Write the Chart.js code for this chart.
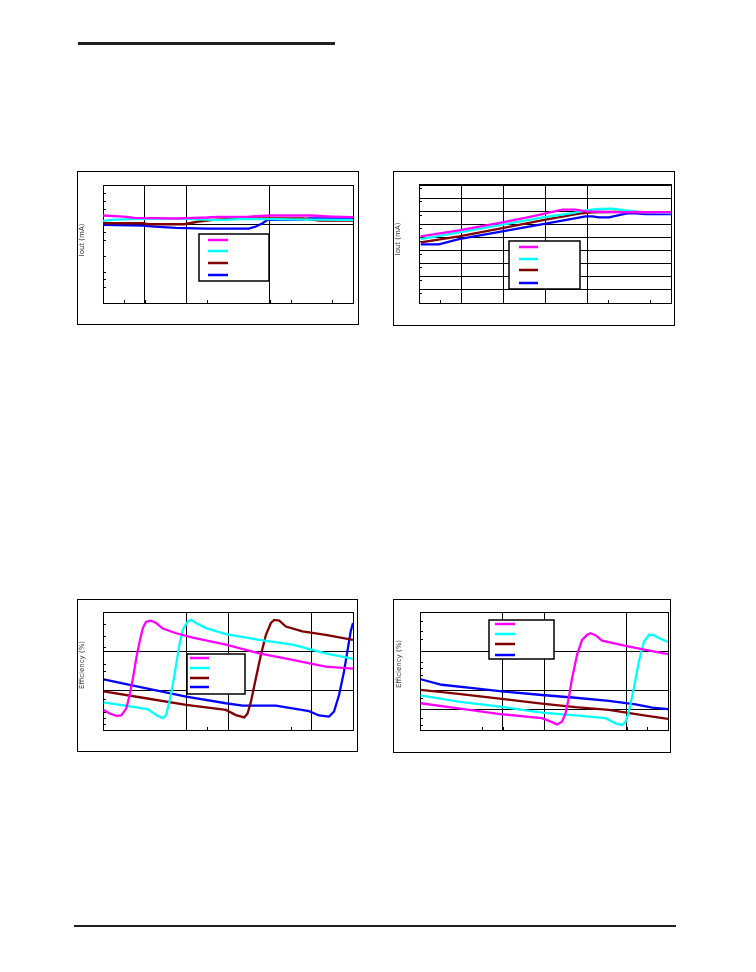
<!DOCTYPE html>
<html>
<head>
<meta charset="utf-8">
<script src="https://cdn.jsdelivr.net/npm/chart.js@4.4.1/dist/chart.umd.min.js"></script>
<style>
  body { margin: 0; background: #fff; width: 756px; height: 972px; position: relative; overflow: hidden; }
  canvas { position: absolute; }
  .rule { position: absolute; background: #231f20; }
</style>
</head>
<body>
<div class="rule" style="left:78px;top:42px;width:257px;height:3px"></div>
<div class="rule" style="left:74px;top:925px;width:602px;height:2px"></div>
<canvas id="c1" width="282" height="154" style="left:77px;top:171px"></canvas>
<canvas id="c2" width="282" height="155" style="left:393px;top:171px"></canvas>
<canvas id="c3" width="281" height="153" style="left:77px;top:599px"></canvas>
<canvas id="c4" width="278" height="154" style="left:393px;top:599px"></canvas>
<script>
// valeurs (unites arbitraires, les graduations ne sont pas lisibles)
const seriesNames = ["serie 1", "serie 2", "serie 3", "serie 4"];
const seriesColors = ["#ff00ff", "#00ffff", "#800000", "#0000ff"];

// graphe 1 (haut gauche)
const c1xMag = [0, 1, 1.5, 2.5, 3.5, 4, 5, 5.5, 7, 8, 10, 11, 12];
const c1yMag = [11.12, 10.99, 10.82, 10.78, 10.74, 10.78, 10.87, 10.95, 10.99, 11.12, 11.12, 10.99, 10.91];
const c1xCya = [0, 0.5, 2, 4, 5.5, 6.5, 8, 10, 12];
const c1yCya = [10.44, 10.61, 10.70, 10.70, 10.53, 10.65, 10.65, 10.61, 10.57];
const c1xBro = [0, 1.9, 2.2, 3.9, 4.6, 5.3, 5.9, 7.0, 9.6, 10.4, 12];
const c1yBro = [10.14, 10.14, 10.01, 10.01, 10.36, 10.57, 10.65, 10.74, 10.74, 10.48, 10.48];
const c1xBlu = [0, 1.9, 2.5, 3.5, 4.95, 7.0, 7.34, 7.66, 7.9, 9.57, 9.89, 12];
const c1yBlu = [9.93, 9.84, 9.72, 9.55, 9.46, 9.46, 9.72, 10.14, 10.57, 10.61, 10.74, 10.74];

// graphe 2 (haut droite)
const c2xMag = [0.08, 1.9, 3.97, 5.4, 6.83, 7.46, 7.94, 8.89, 10.48, 12];
const c2yMag = [5.08, 5.54, 6.15, 6.61, 7.12, 7.12, 6.99, 6.94, 6.92, 6.92];
const c2xCya = [0.08, 1.9, 3.97, 6.03, 7.3, 7.94, 8.57, 9.21, 9.84, 10.48, 12];
const c2yCya = [4.88, 5.39, 5.97, 6.56, 6.86, 7.07, 7.17, 7.19, 7.07, 6.94, 6.86];
const c2xBro = [0.08, 1.9, 3.97, 6.03, 7.62, 8.25, 9.84, 10.79, 12];
const c2yBro = [4.63, 5.08, 5.72, 6.36, 6.81, 6.92, 6.97, 6.92, 6.92];
const c2xBlu = [0.08, 0.95, 1.9, 3.97, 6.03, 7.94, 8.25, 8.57, 9.05, 9.84, 10.16, 10.79, 12];
const c2yBlu = [4.47, 4.47, 4.88, 5.47, 6.05, 6.61, 6.61, 6.53, 6.53, 6.81, 6.86, 6.79, 6.79];

// graphe 3 (bas gauche)
const c3xMag = [0.03, 0.32, 0.64, 0.88, 1.12, 1.28, 1.44, 1.60, 1.76, 1.91, 2.07, 2.31, 2.55, 2.87, 3.51, 4.31, 5.90, 7.50, 9.10, 10.69, 12];
const c3yMag = [0.51, 0.42, 0.36, 0.37, 0.55, 0.89, 1.32, 1.83, 2.25, 2.59, 2.75, 2.78, 2.72, 2.58, 2.46, 2.35, 2.17, 1.95, 1.78, 1.61, 1.56];
const c3xCya = [0.03, 1.91, 2.15, 2.55, 2.87, 3.03, 3.19, 3.35, 3.51, 3.67, 3.83, 4.07, 4.23, 4.47, 4.95, 5.90, 7.50, 9.10, 10.69, 12];
const c3yCya = [0.70, 0.55, 0.53, 0.38, 0.30, 0.38, 0.72, 1.15, 1.66, 2.17, 2.55, 2.76, 2.80, 2.72, 2.59, 2.44, 2.29, 2.17, 1.95, 1.81];
const c3xBro = [0.03, 1.91, 3.99, 5.90, 6.38, 6.78, 6.94, 7.10, 7.34, 7.58, 7.82, 8.06, 8.22, 8.46, 8.78, 9.57, 10.69, 12];
const c3yBro = [0.98, 0.82, 0.64, 0.51, 0.38, 0.32, 0.42, 0.72, 1.32, 1.91, 2.42, 2.72, 2.80, 2.78, 2.63, 2.51, 2.42, 2.29];
const c3xBlu = [0.03, 1.91, 3.99, 5.90, 6.70, 8.30, 9.89, 10.37, 10.85, 11.09, 11.33, 11.57, 11.73, 11.89, 12];
const c3yBlu = [1.29, 1.08, 0.85, 0.68, 0.62, 0.62, 0.48, 0.37, 0.34, 0.47, 0.89, 1.49, 2.00, 2.51, 2.72];

// graphe 4 (bas droite)
const c4xMag = [0.03, 1.86, 3.96, 5.90, 6.39, 6.63, 6.87, 7.04, 7.20, 7.36, 7.60, 7.84, 8.09, 8.25, 8.49, 8.81, 9.95, 10.92, 12];
const c4yMag = [0.68, 0.55, 0.40, 0.30, 0.20, 0.14, 0.21, 0.42, 0.81, 1.32, 1.91, 2.29, 2.42, 2.46, 2.41, 2.27, 2.14, 2.04, 1.93];
const c4xCya = [0.03, 1.86, 3.96, 5.90, 7.52, 8.98, 9.46, 9.78, 9.95, 10.11, 10.35, 10.59, 10.84, 11.08, 11.32, 11.56, 12];
const c4yCya = [0.88, 0.72, 0.59, 0.44, 0.37, 0.30, 0.17, 0.13, 0.21, 0.47, 1.06, 1.74, 2.25, 2.42, 2.41, 2.34, 2.24];
const c4xBro = [0.03, 1.86, 3.96, 5.90, 7.52, 9.14, 10.76, 12];
const c4yBro = [1.02, 0.92, 0.79, 0.67, 0.58, 0.51, 0.38, 0.28];
const c4xBlu = [0.03, 1.05, 2.67, 3.96, 5.90, 7.52, 9.14, 10.43, 11.24, 12];
const c4yBlu = [1.29, 1.15, 1.06, 0.98, 0.89, 0.82, 0.74, 0.65, 0.57, 0.53];

// graduations et lignes de grille
const c1xTicks = [1, 5, 9, 11], c1xGrid = [2, 4, 8];
const c1yTicks = [2, 3, 4, 6, 8, 9, 12, 13, 14], c1yGrid = [10];
const c2xTicks = [1, 9, 11], c2xGrid = [2, 4, 6, 8];
const c2yTicks = [0.75, 1.75, 2.75, 3.75, 4.75, 5.75, 6.75, 7.75, 8.75], c2yGrid = [1, 2, 3, 4, 5, 6, 7, 8];
const c3xTicks = [5, 9], c3xGrid = [4, 6, 10];
const c3yTicks = [0.15, 0.3, 0.45, 0.8, 1.3, 1.5, 1.67, 2.1, 2.4, 2.7], c3yGrid = [1, 2];
const c4xTicks = [3, 11], c4xGrid = [4, 6, 10];
const c4yTicks = [0.13, 0.3, 0.81, 1.4, 1.57, 1.74, 2.32, 2.52, 2.78], c4yGrid = [0.52, 1, 2];

const yTitles = ["Iout (mA)", "Iout (mA)", "Efficiency (%)", "Efficiency (%)"];

function pts(xs, ys) {
  return xs.map((x, i) => ({ x: x, y: ys[i] }));
}

function axis(min, max, ticks, grid) {
  const all = ticks.concat(grid);
  return {
    type: "linear", min: min, max: max,
    afterBuildTicks: s => { s.ticks = all.map(v => ({ value: v, label: "" })); },
    afterFit: s => { if (s.isHorizontal()) s.height = 0; else s.width = 0; },
    ticks: { display: false },
    grid: {
      drawTicks: false,
      lineWidth: 1,
      color: c => (c.tick && grid.includes(c.tick.value)) ? "#000" : "rgba(0,0,0,0)"
    },
    border: { display: true, color: "#000", width: 1 }
  };
}

// cadre, bord haut/droit, petites graduations internes, legende vide, titre y
const decor = {
  id: "decor",
  afterDraw(chart, args, o) {
    const ctx = chart.ctx;
    const a = chart.chartArea;
    const xs = chart.scales.x, ys = chart.scales.y;
    ctx.save();
    ctx.strokeStyle = "#000";
    ctx.lineWidth = 1;
    ctx.strokeRect(0.5, 0.5, chart.width - 1, chart.height - 1);
    // bord du trace
    ctx.beginPath();
    ctx.moveTo(a.right + 0.5, a.top);
    ctx.lineTo(a.right + 0.5, a.bottom);
    ctx.stroke();
    ctx.lineWidth = o.topWidth;
    ctx.beginPath();
    ctx.moveTo(a.left, a.top + (o.topWidth === 1 ? 0.5 : 0));
    ctx.lineTo(a.right + 1, a.top + (o.topWidth === 1 ? 0.5 : 0));
    ctx.stroke();
    ctx.lineWidth = 1;
    // graduations vers l'interieur
    ctx.beginPath();
    o.xTicks.concat(o.xGrid).forEach(v => {
      const px = Math.round(xs.getPixelForValue(v)) + 0.5;
      ctx.moveTo(px, a.bottom);
      ctx.lineTo(px, a.bottom - 3);
    });
    o.yTicks.forEach(v => {
      const py = Math.round(ys.getPixelForValue(v)) + 0.5;
      ctx.moveTo(a.left, py);
      ctx.lineTo(a.left + 3, py);
    });
    ctx.stroke();
    // boite de legende
    const L = o.legend;
    ctx.fillStyle = "#fff";
    ctx.fillRect(L.x, L.y, L.w, L.h);
    ctx.lineWidth = 1.5;
    ctx.strokeRect(L.x, L.y, L.w, L.h);
    ctx.lineWidth = 2.5;
    chart.data.datasets.forEach((d, i) => {
      ctx.strokeStyle = d.borderColor;
      ctx.beginPath();
      ctx.moveTo(L.sx, L.rows[i]);
      ctx.lineTo(L.sx + L.sw, L.rows[i]);
      ctx.stroke();
    });
    // titre de l'axe y
    ctx.fillStyle = "#333";
    ctx.font = "7px 'DejaVu Sans'";
    ctx.textAlign = "center";
    ctx.textBaseline = "middle";
    ctx.translate(o.title.x, o.title.y);
    ctx.rotate(-Math.PI / 2);
    ctx.fillText(o.title.text, 0, 0);
    ctx.restore();
  }
};

function makeChart(id, series, xr, yr, tk, pad, extra) {
  const datasets = series.map((s, i) => ({
    label: seriesNames[i],
    data: pts(s[0], s[1]),
    borderColor: seriesColors[i],
    backgroundColor: seriesColors[i],
    borderWidth: 2.3,
    pointRadius: 0,
    tension: 0,
    fill: false
  }));
  return new Chart(document.getElementById(id).getContext("2d"), {
    type: "line",
    data: { datasets: datasets },
    options: {
      responsive: false,
      animation: false,
      devicePixelRatio: 1,
      layout: { padding: pad },
      scales: {
        x: axis(xr[0], xr[1], tk[0], tk[1]),
        y: axis(yr[0], yr[1], tk[2], tk[3])
      },
      plugins: {
        legend: { display: false },
        tooltip: { enabled: false },
        decor: Object.assign({ xTicks: tk[0], xGrid: tk[1], yTicks: tk[2] }, extra)
      }
    },
    plugins: [decor]
  });
}

makeChart("c1",
  [[c1xMag, c1yMag], [c1xCya, c1yCya], [c1xBro, c1yBro], [c1xBlu, c1yBlu]],
  [0, 12], [0, 15], [c1xTicks, c1xGrid, c1yTicks, c1yGrid],
  { left: 26, top: 14, right: 6, bottom: 22 },
  { topWidth: 1,
    legend: { x: 122, y: 63, w: 70, h: 47, sx: 131, sw: 20, rows: [69, 80, 92, 104] },
    title: { x: 5, y: 69, text: yTitles[0] } });

makeChart("c2",
  [[c2xMag, c2yMag], [c2xCya, c2yCya], [c2xBro, c2yBro], [c2xBlu, c2yBlu]],
  [0, 12], [0, 9], [c2xTicks, c2xGrid, c2yTicks, c2yGrid],
  { left: 26, top: 14, right: 4, bottom: 23 },
  { topWidth: 2,
    legend: { x: 116, y: 70, w: 71, h: 48, sx: 126, sw: 19, rows: [76, 88, 99, 112] },
    title: { x: 5, y: 68, text: yTitles[1] } });

makeChart("c3",
  [[c3xMag, c3yMag], [c3xCya, c3yCya], [c3xBro, c3yBro], [c3xBlu, c3yBlu]],
  [0, 12], [0, 3], [c3xTicks, c3xGrid, c3yTicks, c3yGrid],
  { left: 26, top: 13, right: 5, bottom: 22 },
  { topWidth: 1,
    legend: { x: 110, y: 55, w: 58, h: 40, sx: 113, sw: 19, rows: [59, 69, 79, 88] },
    title: { x: 5, y: 66, text: yTitles[2] } });

makeChart("c4",
  [[c4xMag, c4yMag], [c4xCya, c4yCya], [c4xBro, c4yBro], [c4xBlu, c4yBlu]],
  [0, 12], [0, 3], [c4xTicks, c4xGrid, c4yTicks, c4yGrid],
  { left: 27, top: 13, right: 3, bottom: 23 },
  { topWidth: 1,
    legend: { x: 96, y: 21, w: 65, h: 39, sx: 102, sw: 20, rows: [25, 35, 45, 56] },
    title: { x: 6, y: 65, text: yTitles[3] } });
</script>
</body>
</html>
